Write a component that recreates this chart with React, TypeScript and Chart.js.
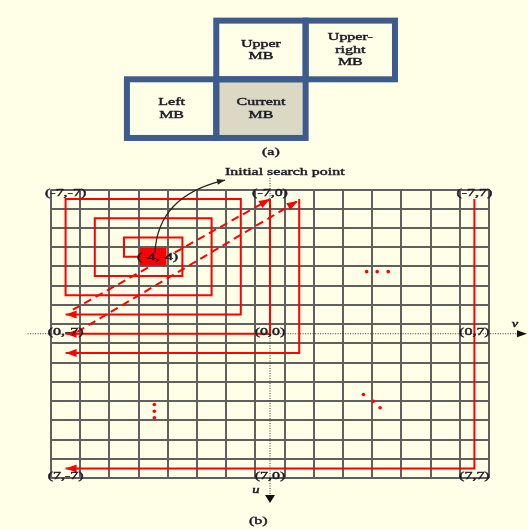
import React, { useEffect, useRef } from "react";
import { Chart, registerables } from "chart.js";

Chart.register(...registerables);

// ---- grid (cell borders, half-integer positions) ----
const gridStops = [-7.5, -6.5, -5.5, -4.5, -3.5, -2.5, -1.5, -0.5, 0.5, 1.5, 2.5, 3.5, 4.5, 5.5, 6.5, 7.5];

// ---- search paths (v = horizontal, u = vertical downward) ----
const spiralV = [-4, -5, -5, -3, -3, -6, -6, -2, -2, -7, -7, -1, -1, -7];
const spiralU = [-4, -4, -5, -5, -3, -3, -6, -6, -2, -2, -7, -7, -1, -1];

const sweep0V = [0, 0, -7];
const sweep0U = [-7, 0, 0];
const sweep1V = [1, 1, -7];
const sweep1U = [-7, 1, 1];
const sweep7V = [7, 7, -7];
const sweep7U = [-7, 7, 7];

const jump1V = [-6.75, 0];
const jump1U = [-1.25, -7];
const jump2V = [-6.6, 0.95];
const jump2U = [-0.1, -6.9];

const dotsRowV = [3.31, 3.67, 4.05];
const dotsRowU = [-3.23, -3.23, -3.23];
const dotsColV = [-3.96, -3.96, -3.96];
const dotsColU = [3.68, 4.03, 4.37];
const dotsDiagV = [3.2, 3.54, 3.77];
const dotsDiagU = [3.16, 3.51, 3.85];

const startCell = [-4, -4];
const startLabel = "(-4,-4)";

// ---- coordinate labels ----
const coordText = ["(-7,-7)", "(-7,0)", "(-7,7)", "(0,-7)", "(0,0)", "(0,7)", "(7,-7)", "(7,0)", "(7,7)"];
const coordV = [-7, 0, 7, -7, 0, 7, -7, 0, 7];
const coordU = [-7, -7, -7, 0, 0, 0, 7, 7, 7];

// ---- panel (a): macroblocks ----
const mbText = ["Upper\nMB", "Upper-\nright\nMB", "Left\nMB", "Current\nMB"];
const mbCol = [1, 2, 0, 1];
const mbRow = [0, 0, 1, 1];
const mbIsCurrent = [false, false, false, true];

const annotationText = "Initial search point";

const RED = "#ff0000";
const BG = "#fffee6";
const INK = "#1c1c2a";
const SX = 1.45;

function pts(vs: number[], us: number[]) {
  return vs.map((v, i) => ({ x: v, y: us[i] }));
}

function head(ctx: CanvasRenderingContext2D, x1: number, y1: number, x2: number, y2: number, len: number, wid: number, color: string) {
  const a = Math.atan2(y2 - y1, x2 - x1);
  ctx.save();
  ctx.translate(x2, y2);
  ctx.rotate(a);
  ctx.fillStyle = color;
  ctx.beginPath();
  ctx.moveTo(0, 0);
  ctx.lineTo(-len, wid / 2);
  ctx.lineTo(-len, -wid / 2);
  ctx.closePath();
  ctx.fill();
  ctx.restore();
}

function sText(ctx: CanvasRenderingContext2D, text: string, x: number, y: number, align: CanvasTextAlign) {
  ctx.save();
  ctx.translate(x, y);
  ctx.scale(SX, 1);
  ctx.textAlign = align;
  ctx.textBaseline = "middle";
  ctx.strokeStyle = ctx.fillStyle as string;
  ctx.lineWidth = 0.45;
  ctx.fillText(text, 0, 0);
  ctx.strokeText(text, 0, 0);
  ctx.restore();
}

const diagramPlugin = {
  id: "diagram",
  beforeDatasetsDraw(chart: any) {
    const ctx: CanvasRenderingContext2D = chart.ctx;
    const xs = chart.scales.x;
    const ys = chart.scales.y;
    // dotted axes
    ctx.save();
    ctx.strokeStyle = "#333";
    ctx.lineWidth = 1;
    ctx.setLineDash([1, 1.5]);
    const y0 = ys.getPixelForValue(0);
    const x0 = xs.getPixelForValue(0);
    const hx1 = xs.getPixelForValue(-8.3);
    const hx2 = xs.getPixelForValue(8.45);
    ctx.beginPath();
    ctx.moveTo(hx1, y0);
    ctx.lineTo(hx2, y0);
    ctx.stroke();
    const vy1 = ys.getPixelForValue(-8.1);
    const vy2 = ys.getPixelForValue(8.45);
    ctx.beginPath();
    ctx.moveTo(x0, vy1);
    ctx.lineTo(x0, vy2);
    ctx.stroke();
    ctx.restore();
    head(ctx, hx1, y0, xs.getPixelForValue(8.8), y0, 10, 7, "#111");
    head(ctx, x0, vy1, x0, ys.getPixelForValue(8.8), 8, 10, "#111");
  },
  afterDatasetsDraw(chart: any) {
    const ctx: CanvasRenderingContext2D = chart.ctx;
    const xs = chart.scales.x;
    const ys = chart.scales.y;
    // arrowheads at ends of flagged datasets
    chart.data.datasets.forEach((ds: any, i: number) => {
      if (!ds.arrowEnd) return;
      const meta = chart.getDatasetMeta(i);
      const n = meta.data.length;
      const a = meta.data[n - 2];
      const b = meta.data[n - 1];
      head(ctx, a.x, a.y, b.x, b.y, 11, 8, RED);
    });
    // start cell
    const cx1 = xs.getPixelForValue(startCell[0] - 0.46);
    const cx2 = xs.getPixelForValue(startCell[0] + 0.46);
    const cy1 = ys.getPixelForValue(startCell[1] - 0.46);
    const cy2 = ys.getPixelForValue(startCell[1] + 0.46);
    ctx.fillStyle = RED;
    ctx.fillRect(cx1, cy1, cx2 - cx1, cy2 - cy1);

    ctx.font = "11px 'Liberation Serif', serif";
    ctx.fillStyle = INK;
    sText(ctx, startLabel, xs.getPixelForValue(startCell[0] + 0.15), ys.getPixelForValue(startCell[1]), "center");

    // coordinate labels
    const top = ys.getPixelForValue(-7.5);
    const bot = ys.getPixelForValue(7.5);
    coordText.forEach((t, i) => {
      const u = coordU[i];
      const y = u < 0 ? top + 3.5 : u > 0 ? bot - 1.5 : ys.getPixelForValue(0) - 2;
      ctx.fillStyle = INK;
      sText(ctx, t, xs.getPixelForValue(coordV[i]), y, "center");
    });

    // curved arrow to the annotation
    const p0 = [xs.getPixelForValue(-3.94), ys.getPixelForValue(-4.2)];
    const p1 = [xs.getPixelForValue(-3.88), ys.getPixelForValue(-6.18)];
    const p2 = [xs.getPixelForValue(-3.1), ys.getPixelForValue(-7.45)];
    const p3 = [xs.getPixelForValue(-1.54), ys.getPixelForValue(-7.99)];
    ctx.save();
    ctx.strokeStyle = "#222";
    ctx.lineWidth = 1.2;
    ctx.beginPath();
    ctx.moveTo(p0[0], p0[1]);
    ctx.bezierCurveTo(p1[0], p1[1], p2[0], p2[1], p3[0], p3[1]);
    ctx.stroke();
    ctx.restore();
    head(ctx, p2[0], p2[1], p3[0], p3[1], 8, 6, "#222");
    ctx.fillStyle = INK;
    sText(ctx, annotationText, xs.getPixelForValue(-1.54), ys.getPixelForValue(-8.42), "left");

    // axis names
    ctx.font = "italic 10px 'Liberation Serif', serif";
    sText(ctx, "v", xs.getPixelForValue(8.39), ys.getPixelForValue(-0.5), "center");
    sText(ctx, "u", xs.getPixelForValue(-0.48), ys.getPixelForValue(8.13), "center");

    // captions
    ctx.font = "11px 'Liberation Serif', serif";
    sText(ctx, "(a)", xs.getPixelForValue(0.03), ys.getPixelForValue(-9.45), "center");
    sText(ctx, "(b)", xs.getPixelForValue(-0.4), ys.getPixelForValue(9.75), "center");

    // panel (a): macroblocks
    const bV0 = -4.9, bVs = 3.06, bU0 = -16.28, bUs = 3.05;
    mbText.forEach((t, i) => {
      const x1 = xs.getPixelForValue(bV0 + mbCol[i] * bVs);
      const x2 = xs.getPixelForValue(bV0 + (mbCol[i] + 1) * bVs);
      const y1 = ys.getPixelForValue(bU0 + mbRow[i] * bUs);
      const y2 = ys.getPixelForValue(bU0 + (mbRow[i] + 1) * bUs);
      ctx.fillStyle = mbIsCurrent[i] ? "#dbd8c4" : BG;
      ctx.fillRect(x1, y1, x2 - x1, y2 - y1);
    });
    mbText.forEach((t, i) => {
      const x1 = xs.getPixelForValue(bV0 + mbCol[i] * bVs);
      const x2 = xs.getPixelForValue(bV0 + (mbCol[i] + 1) * bVs);
      const y1 = ys.getPixelForValue(bU0 + mbRow[i] * bUs);
      const y2 = ys.getPixelForValue(bU0 + (mbRow[i] + 1) * bUs);
      ctx.save();
      ctx.strokeStyle = "#3d5b8c";
      ctx.lineWidth = 6;
      ctx.strokeRect(x1, y1, x2 - x1, y2 - y1);
      ctx.restore();
      const lines = t.split("\n");
      const cx = (x1 + x2) / 2;
      const cy = (y1 + y2) / 2;
      ctx.fillStyle = INK;
      lines.forEach((ln, k) => {
        sText(ctx, ln, cx, cy + (k - (lines.length - 1) / 2) * 12.5, "center");
      });
    });
  },
};

export default function App() {
  const ref = useRef<HTMLCanvasElement | null>(null);
  useEffect(() => {
    if (!ref.current) return;
    const line = (vs: number[], us: number[], extra: any = {}) => ({
      data: pts(vs, us),
      showLine: true,
      borderColor: RED,
      borderWidth: 2,
      pointRadius: 0,
      fill: false,
      clip: false,
      ...extra,
    });
    const dots = (vs: number[], us: number[]) => ({
      data: pts(vs, us),
      showLine: false,
      pointRadius: 1.8,
      pointBackgroundColor: RED,
      pointBorderWidth: 0,
      clip: false,
    });
    const chart = new Chart(ref.current, {
      type: "scatter",
      data: {
        datasets: [
          line(spiralV, spiralU, { arrowEnd: true }),
          line(sweep0V, sweep0U, { arrowEnd: true }),
          line(sweep1V, sweep1U, { arrowEnd: true }),
          line(sweep7V, sweep7U, { arrowEnd: true }),
          line(jump1V, jump1U, { arrowEnd: true, borderDash: [8, 5] }),
          line(jump2V, jump2U, { arrowEnd: true, borderDash: [8, 5] }),
          dots(dotsRowV, dotsRowU),
          dots(dotsColV, dotsColU),
          dots(dotsDiagV, dotsDiagU),
        ] as any,
      },
      options: {
        responsive: false,
        maintainAspectRatio: false,
        animation: false,
        events: [],
        layout: { padding: { left: 51, right: 39, top: 189.5, bottom: 51 } },
        plugins: { legend: { display: false }, tooltip: { enabled: false } },
        scales: {
          x: {
            type: "linear",
            min: -7.5,
            max: 7.5,
            afterBuildTicks: (s: any) => {
              s.ticks = gridStops.map((v) => ({ value: v }));
            },
            afterFit: (s: any) => {
              s.height = 0;
            },
            ticks: { display: false },
            border: { display: false },
            grid: { color: "#606060", lineWidth: 2, drawTicks: false },
          },
          y: {
            type: "linear",
            reverse: true,
            min: -7.5,
            max: 7.5,
            afterBuildTicks: (s: any) => {
              s.ticks = gridStops.map((v) => ({ value: v }));
            },
            afterFit: (s: any) => {
              s.width = 0;
            },
            ticks: { display: false },
            border: { display: false },
            grid: { color: "#606060", lineWidth: 2, drawTicks: false },
          },
        },
      } as any,
      plugins: [diagramPlugin],
    });
    return () => chart.destroy();
  }, []);
  return (
    <div style={{ position: "absolute", left: 0, top: 0, width: 528, height: 529, background: BG }}>
      <canvas ref={ref} width={528} height={529} style={{ display: "block" }} />
    </div>
  );
}
